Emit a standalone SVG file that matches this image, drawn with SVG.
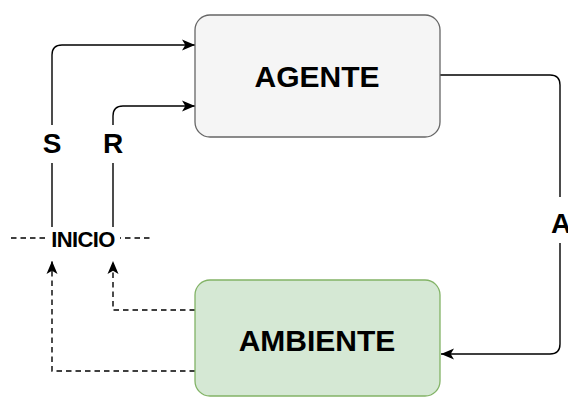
<svg xmlns="http://www.w3.org/2000/svg" width="568" height="397" viewBox="0 0 568 397">
<style>
  .lbl { font-family: "Liberation Sans", Arial, Helvetica, sans-serif; font-weight: bold; fill: #000; text-anchor: middle; }
  .edge { fill: none; stroke: #000; stroke-width: 1.4; }
  .dash { stroke-dasharray: 5.5 4; }
  .bg { fill: #ffffff; }
</style>
<defs>
  <marker id="arrow" markerUnits="userSpaceOnUse" markerWidth="14" markerHeight="12" refX="13" refY="6" orient="auto">
    <path d="M0,0.5 L13,6 L0,11.5 L3.3,6 Z" fill="#000"/>
  </marker>
</defs>
<rect x="0" y="0" width="568" height="397" fill="#ffffff"/>

<g id="connectors">
  <path class="edge" d="M52,227 L52,55 Q52,45 62,45 L195,45" marker-end="url(#arrow)"/>
  <path class="edge" d="M113,227 L113,116 Q113,106 123,106 L195,106" marker-end="url(#arrow)"/>
  <path class="edge" d="M440,75 L550,75 Q560,75 560,85 L560,344 Q560,354 550,354 L441,354" marker-end="url(#arrow)"/>
  <path class="edge dash" d="M195,310 L113,310 L113,261" marker-end="url(#arrow)"/>
  <path class="edge dash" d="M195,371 L52,371 L52,261" marker-end="url(#arrow)"/>
  <rect class="bg" x="40" y="125" width="24" height="38"/>
  <text class="lbl" x="52" y="153" font-size="28">S</text>
  <rect class="bg" x="101" y="125" width="24" height="38"/>
  <text class="lbl" x="113" y="153" font-size="28">R</text>
  <rect class="bg" x="549" y="197" width="22" height="46"/>
  <text class="lbl" x="561" y="233" font-size="28">A</text>
</g>

<g id="inicio">
  <line class="edge dash" x1="11" y1="238" x2="153" y2="238"/>
  <rect class="bg" x="47" y="228" width="73" height="22"/>
  <text class="lbl" x="83" y="247" font-size="22" letter-spacing="-0.6">INICIO</text>
</g>

<g id="agente">
  <rect x="195" y="15" width="245" height="122" rx="15" ry="15" fill="#f5f5f5" stroke="#666666" stroke-width="1.3"/>
  <text class="lbl" x="317" y="87" font-size="30">AGENTE</text>
</g>

<g id="ambiente">
  <rect x="195" y="280" width="245" height="116" rx="15" ry="15" fill="#d5e8d4" stroke="#82b366" stroke-width="1.3"/>
  <text class="lbl" x="317" y="351" font-size="30">AMBIENTE</text>
</g>
</svg>
